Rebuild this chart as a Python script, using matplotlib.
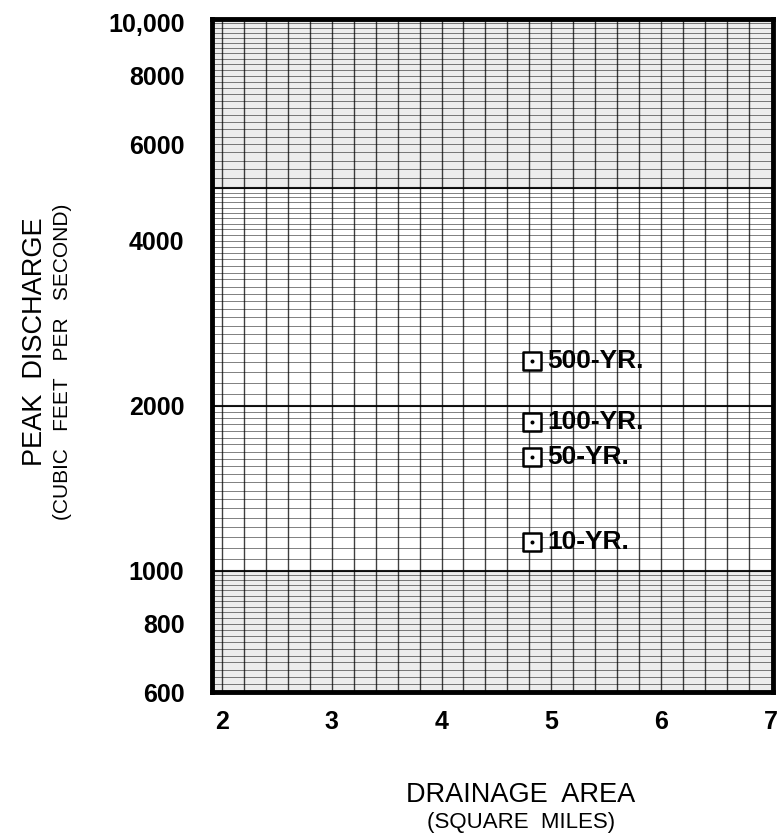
import numpy as np
import matplotlib
matplotlib.use('Agg')
import matplotlib.pyplot as plt
from matplotlib.ticker import FixedLocator, NullFormatter

plt.rcParams['font.family'] = ['Liberation Sans', 'DejaVu Sans']

# Data
area = [4.82, 4.82, 4.82, 4.82]
discharge = [2410, 1870, 1615, 1130]
labels = ['500-YR.', '100-YR.', '50-YR.', '10-YR.']

y_ticks = [600, 800, 1000, 2000, 4000, 6000, 8000, 10000]
y_tick_labels = ['600', '800', '1000', '2000', '4000', '6000', '8000', '10,000']
x_ticks = [2, 3, 4, 5, 6, 7]

fig = plt.figure(figsize=(7.8, 8.38), dpi=100)
ax = fig.add_axes([0.272, 0.174, 0.719, 0.803])
ax.set_yscale('log')
ax.set_xlim(1.91, 7.02)
ax.set_ylim(600, 10150)

# semi-log graph paper grid
minor_y = np.concatenate([
    np.arange(600, 1000, 20),
    np.arange(1000, 2000, 50),
    np.arange(2000, 5000, 100),
    np.arange(5000, 10001, 200),
])
for v in minor_y:
    ax.axhline(v, color='black', lw=0.7, alpha=0.5, zorder=1)
for v in [1000, 2000, 5000]:
    ax.axhline(v, color='black', lw=1.5, alpha=0.9, zorder=1)
for v in np.arange(2.0, 7.0, 0.2):
    ax.axvline(v, color='black', lw=1.0, alpha=0.75, zorder=1)
# shaded bands of the paper
ax.axhspan(5000, 10150, color='0.8', alpha=0.35, zorder=0)
ax.axhspan(600, 1000, color='0.8', alpha=0.35, zorder=0)

ax.set_yticks(y_ticks)
ax.set_yticklabels(y_tick_labels)
ax.yaxis.set_minor_formatter(NullFormatter())
ax.yaxis.set_minor_locator(FixedLocator([]))
ax.set_xticks(x_ticks)
ax.tick_params(length=0, labelsize=18)
ax.tick_params(axis='y', pad=20)
ax.tick_params(axis='x', pad=13)
for t in ax.get_xticklabels() + ax.get_yticklabels():
    t.set_fontweight('bold')

for s in ax.spines.values():
    s.set_linewidth(3.5)

ax.scatter(area, discharge, marker='s', s=160, facecolor='white',
           edgecolor='black', linewidths=1.8, zorder=3)
ax.scatter(area, discharge, marker='.', s=14, color='black', zorder=4)
for x, y, lab in zip(area, discharge, labels):
    ax.text(x + 0.14, y, lab, fontsize=19, fontweight='bold', va='center',
            ha='left', zorder=4)

fig.text(0.045, 0.592, 'PEAK  DISCHARGE', rotation=90, fontsize=19.5,
         ha='center', va='center')
fig.text(0.08, 0.568, '(CUBIC   FEET   PER   SECOND)', rotation=90, fontsize=15,
         ha='center', va='center')
fig.text(0.668, 0.051, 'DRAINAGE  AREA', fontsize=19.5, ha='center', va='center')
fig.text(0.668, 0.019, '(SQUARE  MILES)', fontsize=16, ha='center', va='center')

fig.savefig('out.png', dpi=100)
